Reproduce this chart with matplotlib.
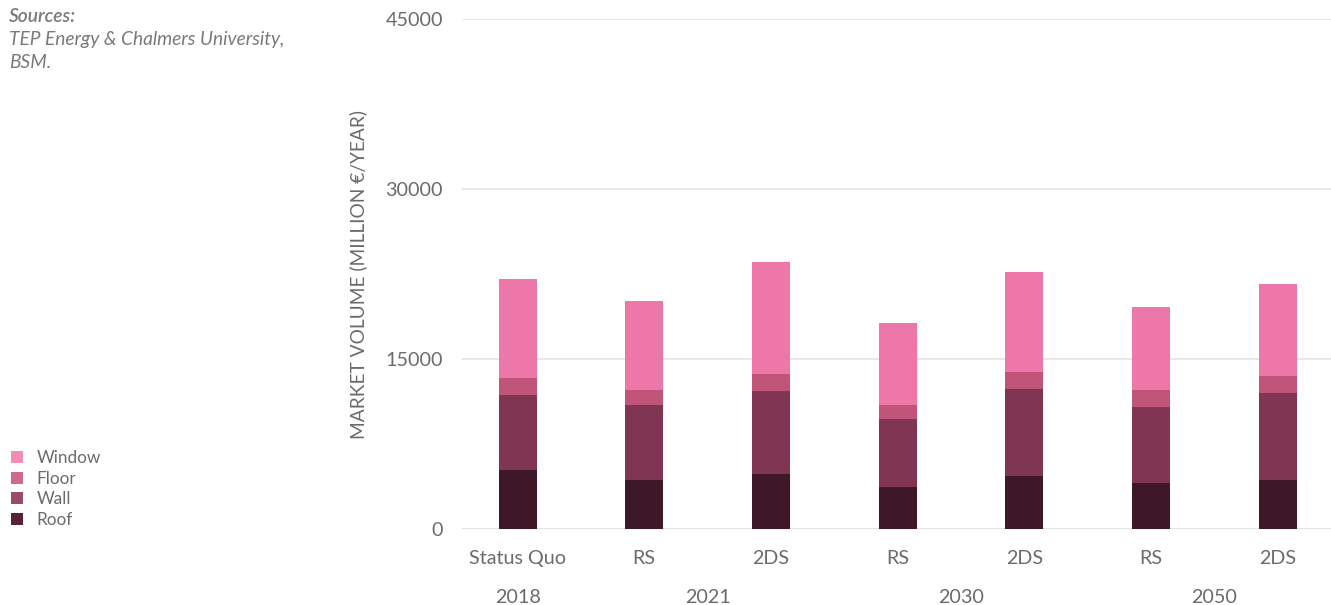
import matplotlib
matplotlib.use("Agg")
import matplotlib.pyplot as plt
from matplotlib.patches import Patch

plt.rcParams["font.family"] = ["Lato", "DejaVu Sans"]

scenarios = ["Status Quo", "RS", "2DS", "RS", "2DS", "RS", "2DS"]
years = ["2018", "2021", "2030", "2050"]
year_positions = [0, 1.5, 3.5, 5.5]

roof = [5200, 4300, 4850, 3700, 4700, 4050, 4300]
wall = [6600, 6650, 7300, 6000, 7650, 6700, 7700]
floor = [1500, 1300, 1500, 1250, 1500, 1500, 1500]
window = [8800, 7850, 9900, 7250, 8800, 7300, 8100]

series = [("Roof", roof, "#3E1826"), ("Wall", wall, "#803552"),
          ("Floor", floor, "#C05479"), ("Window", window, "#EC77A8")]

text_grey = "#6b6b6b"

fig = plt.figure(figsize=(13.31, 6.05), dpi=100)
ax = fig.add_axes([0.347, 0.1256, 0.653, 0.843])

x = list(range(len(scenarios)))
bottom = [0] * len(x)
for name, vals, color in series:
    ax.bar(x, vals, width=0.3, bottom=bottom, color=color, zorder=3, linewidth=0)
    bottom = [b + v for b, v in zip(bottom, vals)]

ax.set_xlim(-0.44, 6.42)
ax.set_ylim(0, 45000)
ax.set_yticks([0, 15000, 30000, 45000])
ax.set_yticklabels(["0", "15000", "30000", "45000"])
ax.yaxis.grid(True, color="#e6e6e6", linewidth=1.3, zorder=0)
ax.axhline(0, color="#e3e3e3", linewidth=2.2, zorder=2)
for s in ax.spines.values():
    s.set_visible(False)
ax.tick_params(axis="both", length=0, labelsize=14.2, colors=text_grey)
ax.tick_params(axis="y", pad=13.5)
ax.tick_params(axis="x", pad=15)
ax.set_xticks(x)
ax.set_xticklabels(scenarios)

for pos, yr in zip(year_positions, years):
    ax.text(pos, -0.135, yr, transform=ax.get_xaxis_transform(), ha="center", va="center",
            fontsize=14.2, color=text_grey)

ax.set_ylabel("MARKET VOLUME (MILLION €/YEAR)", fontsize=13.8, color=text_grey, labelpad=13)

src_kw = dict(fontsize=13.8, style="italic", color="#7a7a7a", va="center")
fig.text(0.007, 0.972, "Sources:", fontweight="semibold", **src_kw)
fig.text(0.007, 0.934, "TEP Energy & Chalmers University,", **src_kw)
fig.text(0.007, 0.897, "BSM.", **src_kw)

legend_colors = {"Roof": "#5A2236", "Wall": "#9A4A6A", "Floor": "#D0688F", "Window": "#F28DB6"}
handles = [Patch(facecolor=legend_colors[n], edgecolor="none", label=n) for n, _, _ in reversed(series)]
fig.legend(handles=handles, loc="upper left", bbox_to_anchor=(-0.001, 0.276), frameon=False,
           fontsize=12.3, handlelength=0.72, handleheight=0.72, handletextpad=0.8,
           labelspacing=0.27, labelcolor=text_grey, borderaxespad=0.3)

fig.savefig("out.png", dpi=100)
